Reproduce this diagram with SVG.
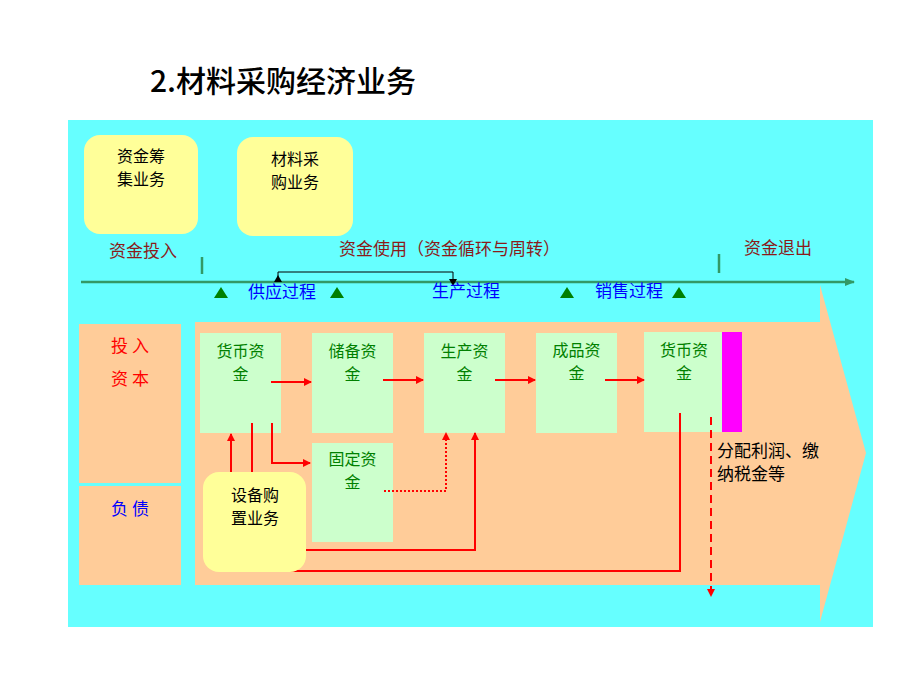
<svg xmlns="http://www.w3.org/2000/svg" width="920" height="690" viewBox="0 0 920 690">
<defs>
<marker id="ar" markerWidth="8" markerHeight="8" refX="7" refY="4" orient="auto" markerUnits="userSpaceOnUse"><path d="M0,0 L8,4 L0,8 z" fill="#FF0000"/></marker>
<marker id="ag" markerWidth="10" markerHeight="8" refX="9" refY="4" orient="auto" markerUnits="userSpaceOnUse"><path d="M0,0 L10,4 L0,8 z" fill="#339966"/></marker>
</defs>
<style>
text{font-family:"Noto Sans CJK SC","Liberation Sans",sans-serif;font-size:17px}
.t2{font-size:16px}
.c{text-anchor:middle}
.dk{fill:#000}
.dr{fill:#8B1A1A}
.bl{fill:#0000FF}
.rd{fill:#FF0000}
.gt{fill:#008000}
.yb{fill:#FFFF99}
.gb{fill:#CCFFCC}
.pe{fill:#FFCC99}
.ln{fill:none;stroke:#FF0000;stroke-width:2}
.tri{fill:#008000}
</style>
<rect width="920" height="690" fill="#FFFFFF"/>
<text x="150" y="92" style="font-size:30px;font-weight:500" class="dk">2.材料采购经济业务</text>
<rect x="68" y="120" width="805" height="507" fill="#66FFFF"/>

<g id="timeline">
<line x1="81" y1="282" x2="854" y2="282" stroke="#339966" stroke-width="2.5" marker-end="url(#ag)"/>
<line x1="202" y1="257" x2="202" y2="274" stroke="#339966" stroke-width="2.5"/>
<line x1="719" y1="254" x2="719" y2="273" stroke="#339966" stroke-width="2.5"/>
<path d="M278,282 V272 H453 V283" fill="none" stroke="#000" stroke-width="1"/>
<path d="M274,282 L278,275 L282,282 z" fill="#000"/>
<path d="M449,279 L453,286 L457,279 z" fill="#000"/>
<path class="tri" d="M214,298 L221,287 L228,298 z"/>
<path class="tri" d="M330,298 L337,287 L344,298 z"/>
<path class="tri" d="M560,298 L567,287 L574,298 z"/>
<path class="tri" d="M672,298 L679,287 L686,298 z"/>
<text x="143" y="257" class="c dr">资金投入</text>
<text x="339" y="255" class="dr">资金使用（资金循环与周转）</text>
<text x="744" y="254" class="dr">资金退出</text>
<text x="248" y="298" class="bl">供应过程</text>
<text x="432" y="297" class="bl">生产过程</text>
<text x="595" y="297" class="bl">销售过程</text>
</g>

<g id="n-chouji"><rect x="84" y="135" width="114" height="99" rx="16" class="yb"/><text x="141" y="162" class="c dk t2">资金筹</text><text x="141" y="185" class="c dk t2">集业务</text></g>
<g id="n-caigou"><rect x="237" y="137" width="116" height="99" rx="16" class="yb"/><text x="295" y="165" class="c dk t2">材料采</text><text x="295" y="188" class="c dk t2">购业务</text></g>

<g id="n-touru"><rect x="79" y="324" width="102" height="159" class="pe"/><text x="130" y="352" class="c rd">投 入</text><text x="130" y="385" class="c rd">资 本</text></g>
<g id="n-fuzhai"><rect x="79" y="486" width="102" height="99" class="pe"/><text x="130" y="515" class="c bl">负 债</text></g>

<g id="n-bigarrow"><polygon points="195,322 820,322 820,285 866,453 820,622 820,585 195,585" class="pe"/></g>

<g id="n-huobi1"><rect x="200" y="333" width="81" height="100" class="gb"/><text x="240.5" y="357" class="c gt t2">货币资</text><text x="240.5" y="380" class="c gt t2">金</text></g>
<g id="n-chubei"><rect x="312" y="333" width="81" height="100" class="gb"/><text x="352.5" y="357" class="c gt t2">储备资</text><text x="352.5" y="380" class="c gt t2">金</text></g>
<g id="n-shengchan"><rect x="424" y="333" width="81" height="100" class="gb"/><text x="464.5" y="357" class="c gt t2">生产资</text><text x="464.5" y="380" class="c gt t2">金</text></g>
<g id="n-chengpin"><rect x="536" y="333" width="81" height="100" class="gb"/><text x="576.5" y="356" class="c gt t2">成品资</text><text x="576.5" y="379" class="c gt t2">金</text></g>
<g id="n-huobi2"><rect x="644" y="332" width="78" height="100" class="gb"/><rect x="722" y="332" width="20" height="100" fill="#FF00FF"/><text x="684" y="356" class="c gt t2">货币资</text><text x="684" y="379" class="c gt t2">金</text></g>
<g id="n-guding"><rect x="312" y="443" width="81" height="99" class="gb"/><text x="352.5" y="465" class="c gt t2">固定资</text><text x="352.5" y="488" class="c gt t2">金</text></g>

<g id="connectors">
<line x1="271" y1="382" x2="311" y2="382" class="ln" marker-end="url(#ar)"/>
<line x1="383" y1="380" x2="423" y2="380" class="ln" marker-end="url(#ar)"/>
<line x1="495" y1="380" x2="535" y2="380" class="ln" marker-end="url(#ar)"/>
<line x1="605" y1="380" x2="644" y2="380" class="ln" marker-end="url(#ar)"/>
<path d="M680,413 V571 H231 V434" class="ln" marker-end="url(#ar)"/>
<line x1="252" y1="423" x2="252" y2="472" class="ln"/>
<path d="M272,423 V463 H310" class="ln" marker-end="url(#ar)"/>
<path d="M384,491 H446 V433" class="ln" stroke-dasharray="2,2" marker-end="url(#ar)"/>
<path d="M306,550 H475 V433" class="ln" marker-end="url(#ar)"/>
<line x1="711" y1="417" x2="711" y2="596" class="ln" stroke-dasharray="8,5" marker-end="url(#ar)"/>
</g>

<g id="n-shebei"><rect x="203" y="472" width="103" height="100" rx="16" class="yb"/><text x="255" y="501" class="c dk t2">设备购</text><text x="255" y="524" class="c dk t2">置业务</text></g>

<g id="n-fenpei"><text x="717" y="457" class="dk t2" style="font-size:17px">分配利润、缴</text><text x="717" y="480" class="dk" style="font-size:17px">纳税金等</text></g>
</svg>
